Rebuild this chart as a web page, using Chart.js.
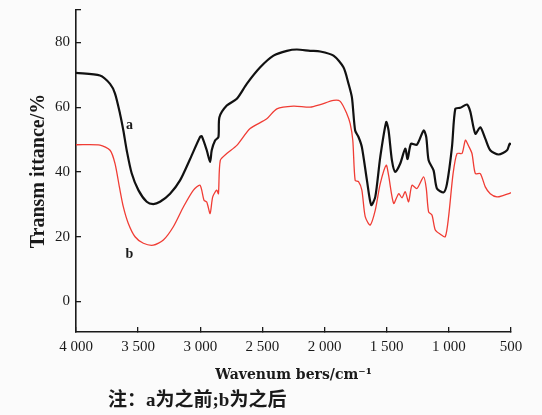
<!DOCTYPE html>
<html>
<head>
<meta charset="utf-8">
<script src="https://cdn.jsdelivr.net/npm/chart.js@4.4.1/dist/chart.umd.min.js"></script>
<style>
  html, body { margin: 0; padding: 0; background: #fbfbfb; }
  #wrap { position: relative; width: 542px; height: 415px; }
</style>
</head>
<body>
<div id="wrap"><canvas id="c" width="542" height="415"></canvas></div>
<script>
// FTIR spectra: wavenumber (cm-1) and transmittance (%)
const waveA = [4000, 3807, 3726, 3686, 3646, 3619, 3592, 3552, 3498, 3431, 3378, 3324, 3243, 3163, 3082, 3002, 2988, 2948, 2921, 2908, 2881, 2854, 2846, 2787, 2706, 2626, 2518, 2411, 2303, 2223, 2116, 2035, 1928, 1848, 1807, 1780, 1754, 1727, 1700, 1659, 1625, 1592, 1552, 1504, 1485, 1458, 1431, 1391, 1351, 1332, 1305, 1257, 1203, 1182, 1163, 1123, 1096, 1042, 1015, 975, 948, 908, 854, 828, 787, 747, 707, 667, 600, 532, 511, 500];
const transA = [70.6, 69.8, 67.2, 64.2, 58.0, 52.8, 46.7, 39.6, 34.4, 30.8, 30.1, 30.8, 33.3, 37.4, 44.0, 50.8, 51.0, 46.7, 43.1, 46.7, 49.7, 50.8, 56.9, 60.5, 62.6, 67.2, 72.3, 75.9, 77.4, 77.8, 77.4, 77.2, 75.9, 72.3, 67.2, 63.0, 52.8, 50.8, 47.7, 37.4, 29.8, 32.3, 44.6, 55.4, 52.8, 43.6, 40.0, 42.6, 47.2, 44.0, 48.7, 48.4, 52.8, 50.8, 43.6, 40.5, 34.9, 33.7, 36.4, 47.7, 59.5, 59.8, 60.8, 58.7, 51.8, 53.8, 50.3, 46.7, 45.4, 46.7, 48.7, 48.5];

const waveB = [4000, 3807, 3726, 3686, 3651, 3619, 3579, 3525, 3458, 3378, 3297, 3217, 3136, 3055, 3002, 2970, 2948, 2921, 2900, 2868, 2854, 2839, 2787, 2706, 2599, 2465, 2384, 2250, 2116, 2035, 1928, 1874, 1821, 1794, 1773, 1754, 1727, 1700, 1673, 1633, 1592, 1552, 1504, 1485, 1444, 1404, 1377, 1351, 1324, 1297, 1257, 1203, 1182, 1163, 1136, 1109, 1069, 1029, 1002, 966, 934, 894, 867, 841, 814, 787, 747, 707, 667, 613, 560, 511, 500];
const transB = [48.4, 48.3, 46.7, 42.6, 35.4, 29.2, 24.1, 20.0, 18.0, 17.4, 19.0, 23.1, 29.2, 34.4, 35.9, 31.3, 30.7, 27.2, 32.3, 34.4, 33.3, 43.6, 45.7, 48.2, 53.4, 56.4, 59.5, 60.3, 60.0, 60.8, 62.1, 61.8, 58.0, 54.9, 49.8, 37.4, 37.0, 34.4, 26.2, 23.6, 28.2, 36.4, 42.1, 39.0, 30.3, 33.3, 32.0, 33.9, 30.8, 35.9, 34.9, 38.5, 35.0, 27.7, 26.7, 22.1, 20.8, 20.0, 26.2, 39.5, 45.7, 45.7, 49.8, 48.0, 45.7, 39.5, 39.5, 35.4, 33.3, 32.3, 32.8, 33.4, 33.6];

const xTicks = [4000, 3500, 3000, 2500, 2000, 1500, 1000, 500];
const yTicks = [0, 20, 40, 60, 80, 90];
const yLabeled = [0, 20, 40, 60, 80];

const seriesNames = ['a', 'b'];
const xTitle = 'Wavenum bers/cm\u207B\u00B9';
const yTitle = 'Transm ittance/%';
const caption = '注：a为之前;b为之后';

const toPoints = (ws, ts) => ws.map((w, i) => ({ x: w, y: ts[i] }));

const serif = '"Liberation Serif", "Times New Roman", serif';
const ink = '#1a1a1a';

// writes the curve letters next to their traces and the note under the plot
const annotate = {
  id: 'annotate',
  afterDraw(chart) {
    const { ctx, scales } = chart;
    ctx.save();
    ctx.fillStyle = ink;
    ctx.font = 'bold 14px ' + serif;
    ctx.textAlign = 'center';
    ctx.textBaseline = 'middle';
    ctx.fillText(seriesNames[0], scales.x.getPixelForValue(3570), scales.y.getPixelForValue(54.5));
    ctx.fillText(seriesNames[1], scales.x.getPixelForValue(3570), scales.y.getPixelForValue(14.5));
    ctx.font = 'bold 19px "Liberation Serif", "Noto Sans CJK SC", sans-serif';
    ctx.textAlign = 'left';
    ctx.fillText(caption, 108, 401);
    ctx.restore();
  }
};

new Chart(document.getElementById('c'), {
  type: 'line',
  data: {
    datasets: [
      { label: seriesNames[0], data: toPoints(waveA, transA), borderColor: '#111111', borderWidth: 2.2, pointRadius: 0, tension: 0.25, fill: false },
      { label: seriesNames[1], data: toPoints(waveB, transB), borderColor: '#f03c34', borderWidth: 1.3, pointRadius: 0, tension: 0.25, fill: false }
    ]
  },
  options: {
    responsive: false,
    animation: false,
    events: [],
    layout: { padding: { left: 0, top: 10, right: 31, bottom: 0 } },
    plugins: { legend: { display: false }, tooltip: { enabled: false }, title: { display: false } },
    scales: {
      x: {
        type: 'linear',
        reverse: true,
        min: 500,
        max: 4000,
        afterBuildTicks(scale) { scale.ticks = xTicks.map(v => ({ value: v })); },
        afterFit(scale) {
          scale.height = 83;
          scale.paddingLeft = 0;
          scale.paddingRight = 0;
        },
        ticks: {
          color: ink,
          font: { family: serif, size: 15 },
          padding: 11,
          maxRotation: 0,
          autoSkip: false,
          callback: v => v >= 1000 ? Math.floor(v / 1000) + ' ' + String(v % 1000).padStart(3, '0') : String(v)
        },
        grid: { drawOnChartArea: false, tickLength: -5, color: ink, lineWidth: 1.3 },
        border: { color: ink, width: 1.6 },
        title: { display: true, text: xTitle, color: ink, font: { family: '"DejaVu Serif", serif', size: 14, weight: 'bold' }, padding: { top: 0, bottom: 31 } }
      },
      y: {
        min: -9.4,
        max: 90,
        afterBuildTicks(scale) { scale.ticks = yTicks.map(v => ({ value: v })); },
        afterFit(scale) {
          scale.width = 76;
          scale.paddingTop = 0;
          scale.paddingBottom = 0;
        },
        ticks: {
          color: ink,
          font: { family: serif, size: 15 },
          padding: 11,
          autoSkip: false,
          callback: v => yLabeled.includes(v) ? String(v) : ''
        },
        grid: { drawOnChartArea: false, tickLength: -5, color: ink, lineWidth: 1.3 },
        border: { color: ink, width: 1.6 },
        title: { display: true, text: yTitle, color: ink, font: { family: serif, size: 20, weight: 'bold' }, padding: { top: 27, bottom: 0 } }
      }
    }
  },
  plugins: [annotate]
});
</script>
</body>
</html>
